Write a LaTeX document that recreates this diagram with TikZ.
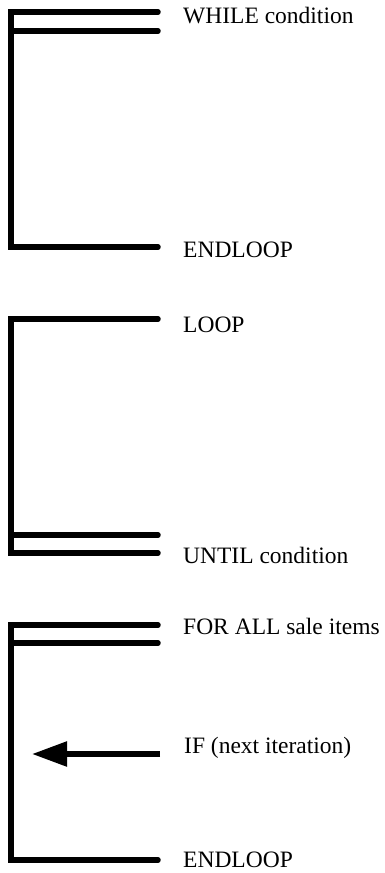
\documentclass[tikz,border=0pt]{standalone}
\usepackage{fontspec}
\setmainfont{Liberation Serif}
\usetikzlibrary{positioning,calc}
\usetikzlibrary{arrows.meta}
\tikzset{bar/.style={line width=5.5pt,line cap=round,line join=miter}, lab/.style={anchor=base west,inner sep=0pt,font=\fontsize{23.5}{28}\selectfont},back/.style={line width=5.5pt,-{Triangle[length=35pt,width=24pt]}}}

\begin{document}
\begin{tikzpicture}[x=1pt,y=-1pt]
\useasboundingbox (0,0) rectangle (384,873);
% WHILE loop
\coordinate (wa) at (158,12);
\coordinate (wb) at (11,12);
\coordinate (wc) at (11,247);
\coordinate (wd) at (158,247);
\coordinate (we) at (11,31);
\coordinate (wf) at (158,31);
\draw[bar] (wa)--(wb)--(wc)--(wd);
\draw[bar] (we)--(wf);
\node[lab] (wtop) at (183,23) {WHILE condition};
\node[lab] (wend) at (183,257) {ENDLOOP};
% LOOP ... UNTIL
\coordinate (ua) at (158,319);
\coordinate (ub) at (11,319);
\coordinate (uc) at (11,553);
\coordinate (ud) at (158,553);
\coordinate (ue) at (11,535);
\coordinate (uf) at (158,535);
\draw[bar] (ua)--(ub)--(uc)--(ud);
\draw[bar] (ue)--(uf);
\node[lab] (utop) at (183,332) {LOOP};
\node[lab] (uend) at (183,563) {UNTIL condition};
% FOR ALL with next iteration
\coordinate (fa) at (158,625);
\coordinate (fb) at (11,625);
\coordinate (fc) at (11,860);
\coordinate (fd) at (158,860);
\coordinate (fe) at (11,643);
\coordinate (ff) at (158,643);
\coordinate (fs) at (160,754);
\coordinate (ft) at (32,754);
\draw[bar] (fa)--(fb)--(fc)--(fd);
\draw[bar] (fe)--(ff);
\draw[back] (fs)--(ft);
\node[lab] (ftop) at (183,634) {FOR ALL sale items};
\node[lab] (fif) at (184,753) {IF (next iteration)};
\node[lab] (fend) at (183,867) {ENDLOOP};
\end{tikzpicture}
\end{document}
